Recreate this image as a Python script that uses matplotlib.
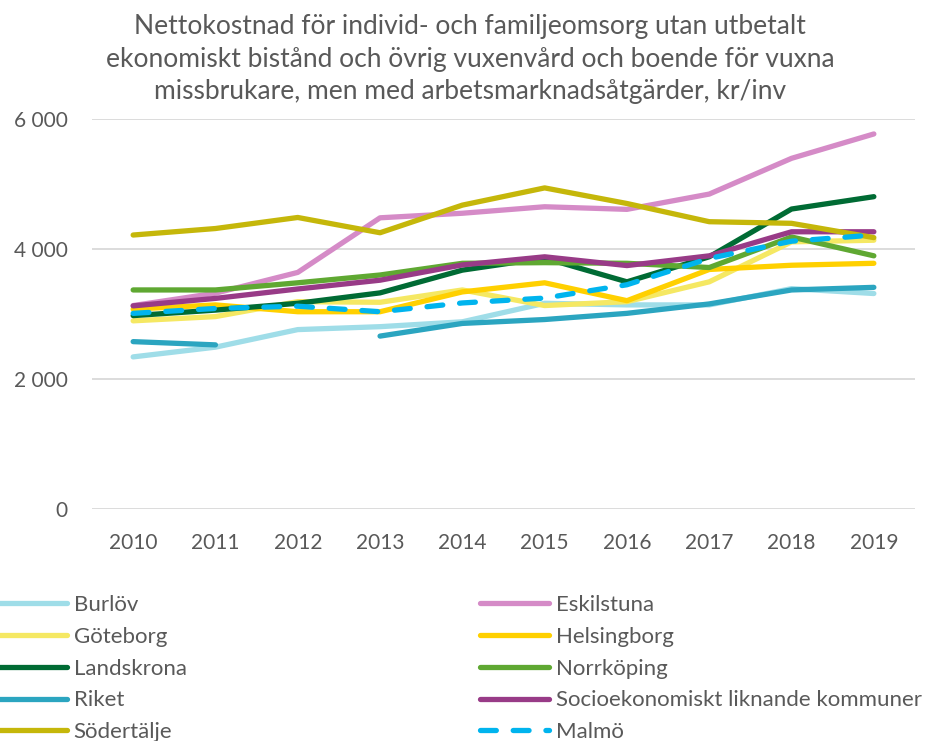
import matplotlib
matplotlib.use("Agg")
import matplotlib.pyplot as plt
import numpy as np

plt.rcParams['font.family'] = ['Lato', 'DejaVu Sans']

years = list(range(2010, 2020))

burlov = [2340, 2490, 2760, 2805, 2880, 3165, 3140, 3140, 3390, 3315]
eskilstuna = [3130, 3320, 3640, 4480, 4550, 4650, 4610, 4845, 5395, 5770]
goteborg = [2895, 2960, 3190, 3180, 3370, 3130, 3190, 3495, 4110, 4135]
helsingborg = [3075, 3140, 3035, 3035, 3340, 3480, 3205, 3685, 3750, 3780]
landskrona = [2975, 3060, 3165, 3325, 3675, 3860, 3495, 3880, 4615, 4805]
norrkoping = [3370, 3370, 3480, 3600, 3780, 3790, 3780, 3715, 4185, 3895]
riket = [2575, 2525, np.nan, 2660, 2855, 2915, 3010, 3155, 3370, 3410]
socioek = [3125, 3240, 3385, 3520, 3755, 3880, 3745, 3895, 4265, 4265]
sodertalje = [4215, 4315, 4485, 4250, 4675, 4940, 4700, 4420, 4395, 4175]
malmo = [3010, 3085, 3120, 3035, 3170, 3245, 3450, 3855, 4120, 4215]

series = [
    ("Burlöv", burlov, "#9fdde8", "-"),
    ("Eskilstuna", eskilstuna, "#d58bc7", "-"),
    ("Göteborg", goteborg, "#f5e863", "-"),
    ("Helsingborg", helsingborg, "#ffd000", "-"),
    ("Landskrona", landskrona, "#006b34", "-"),
    ("Norrköping", norrkoping, "#5fa832", "-"),
    ("Riket", riket, "#2ba5c0", "-"),
    ("Socioekonomiskt liknande kommuner", socioek, "#983b87", "-"),
    ("Södertälje", sodertalje, "#c5b70a", "-"),
    ("Malmö", malmo, "#00b4ee", "--"),
]

fig = plt.figure(figsize=(9.4, 7.41), dpi=100)
ax = fig.add_axes([92/940, 1 - 509/741, (915-92)/940, (509-119)/741])

lines = {}
for name, vals, col, ls in series:
    l, = ax.plot(years, vals, color=col, lw=3.8, ls=ls, solid_capstyle='round',
                 dash_capstyle='round', dashes=(3, 3.2) if ls == "--" else (None, None), label=name)
    lines[name] = l

ax.set_xlim(2009.5, 2019.5)
ax.set_ylim(0, 6000)
ax.set_yticks([0, 2000, 4000, 6000])
ax.set_yticklabels(["0", "2 000", "4 000", "6 000"])
ax.set_xticks(years)
ax.grid(axis='y', color='#d9d9d9', lw=1.3)
ax.set_axisbelow(True)
for s in ax.spines.values():
    s.set_visible(False)
ax.tick_params(length=0, labelsize=15, colors='#595959')
ax.tick_params(axis='y', pad=17.5)
ax.tick_params(axis='x', pad=17)

fig.text(0.5, 1 - 59/741,
         "Nettokostnad för individ- och familjeomsorg utan utbetalt\n"
         "ekonomiskt bistånd och övrig vuxenvård och boende för vuxna\n"
         "missbrukare, men med arbetsmarknadsåtgärder, kr/inv",
         ha='center', va='center', fontsize=19, color='#595959', linespacing=1.38)

order = ["Burlöv", "Göteborg", "Landskrona", "Riket", "Södertälje",
         "Eskilstuna", "Helsingborg", "Norrköping", "Socioekonomiskt liknande kommuner", "Malmö"]
fig.legend([lines[n] for n in order], order, ncol=2, loc='upper left',
           bbox_to_anchor=(-0.002, 1 - 595/741), frameon=False, fontsize=16,
           labelcolor='#595959', handlelength=3.1, handletextpad=0.3,
           columnspacing=13.2, labelspacing=0.53, borderaxespad=0, borderpad=0)

fig.savefig("out.png", dpi=100)
